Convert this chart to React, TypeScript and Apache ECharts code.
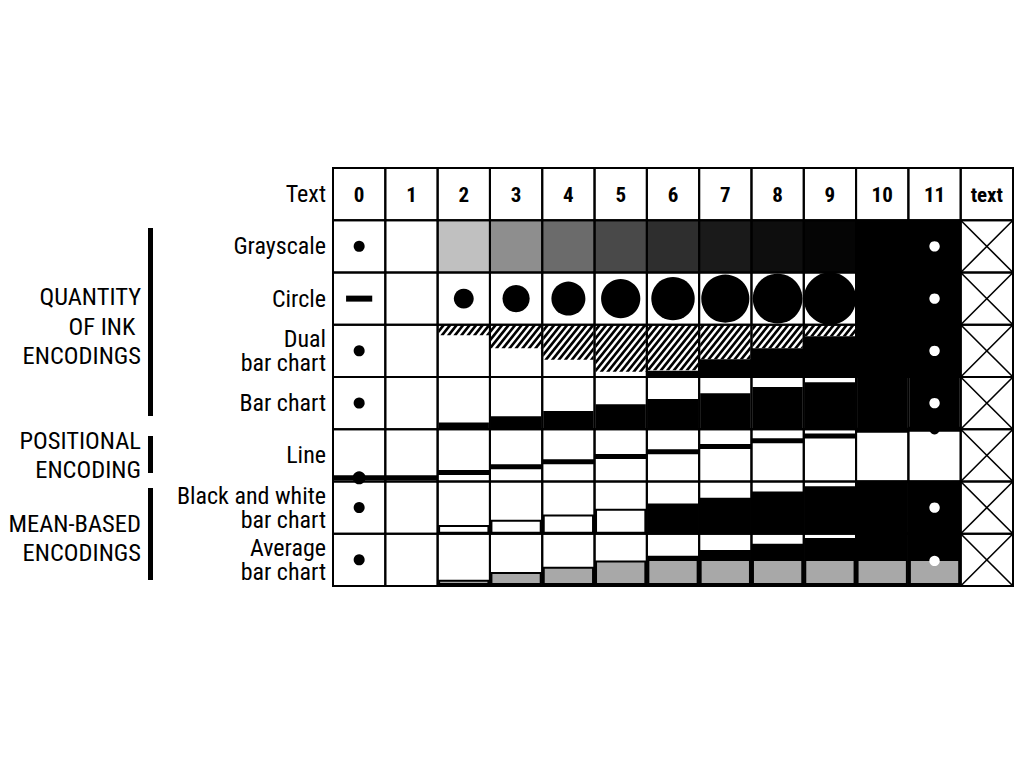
import React, { useEffect, useRef } from 'react';
import * as echarts from 'echarts';

const columns = ['0', '1', '2', '3', '4', '5', '6', '7', '8', '9', '10', '11', 'text'];
const rows = [
  'Text',
  'Grayscale',
  'Circle',
  'Dual\nbar chart',
  'Bar chart',
  'Line',
  'Black and white\nbar chart',
  'Average\nbar chart',
];

// values per column 0..11 (column "text" is not applicable)
const grayLevels = [255, 255, 192, 142, 107, 73, 46, 26, 14, 5, 0, 0];
const circleDiameters = [0, 0, 0.38, 0.52, 0.65, 0.75, 0.83, 0.92, 0.95, 1.0, 1.5, 1.5];
const dualHatched = [0, 0, 0.2, 0.45, 0.67, 0.9, 0.87, 0.66, 0.45, 0.22, 0, 0];
const dualBlack = [0, 0, 0, 0, 0, 0, 0.12, 0.34, 0.55, 0.78, 1, 1];
const barHeights = [0, 0, 0.13, 0.25, 0.35, 0.48, 0.58, 0.69, 0.81, 0.9, 1, 1];
const linePositions = [0.07, 0.07, 0.17, 0.28, 0.38, 0.48, 0.57, 0.67, 0.78, 0.87, 0.98, 1];
const bwHeights = [0, 0, 0.15, 0.25, 0.35, 0.46, 0.56, 0.67, 0.79, 0.89, 1, 1];
const avgHeights = [0, 0, 0.1, 0.25, 0.35, 0.47, 0.56, 0.67, 0.79, 0.9, 1, 1];
const avgMean = 0.48;
const bwThreshold = 0.5;

// markers for column 0 (empty) and column 11 (full), one per encoding row
const zeroMarkers = ['dot', 'dash', 'dot', 'dot', 'dot', 'dot', 'dot'];
const zeroMarkerPos = [0.5, 0.5, 0.5, 0.5, 0.07, 0.5, 0.5];
const fullMarkerPos = [0.5, 0.5, 0.5, 0.5, 1, 0.5, 0.48];
const fullMarkerColor = ['#fff', '#fff', '#fff', '#fff', '#000', '#fff', '#fff'];

const groupLabels = ['QUANTITY\nOF INK \nENCODINGS', 'POSITIONAL\nENCODING', 'MEAN-BASED\nENCODINGS'];

const FONT = "'Roboto Condensed', 'Liberation Sans Narrow', 'Arial Narrow', 'DejaVu Sans Condensed', Roboto, sans-serif";

type Pt = [number, number];

function clipHalf(poly: Pt[], f: (p: Pt) => number): Pt[] {
  const out: Pt[] = [];
  for (let i = 0; i < poly.length; i++) {
    const a = poly[i];
    const b = poly[(i + 1) % poly.length];
    const fa = f(a);
    const fb = f(b);
    if (fa >= 0) out.push(a);
    if ((fa >= 0) !== (fb >= 0)) {
      const t = fa / (fa - fb);
      out.push([a[0] + (b[0] - a[0]) * t, a[1] + (b[1] - a[1]) * t]);
    }
  }
  return out;
}

function hatch(x0: number, y0: number, x1: number, y1: number): any[] {
  const k = 0.8;
  const period = 6.5;
  const bw = 3.4;
  const els: any[] = [];
  if (y1 - y0 <= 0.5) return els;
  const umin = x0 + k * y0;
  const umax = x1 + k * y1;
  const rect: Pt[] = [[x0, y0], [x1, y0], [x1, y1], [x0, y1]];
  for (let c = Math.floor(umin / period) * period; c < umax; c += period) {
    let p = clipHalf(rect, (q) => q[0] + k * q[1] - c);
    p = clipHalf(p, (q) => c + bw - (q[0] + k * q[1]));
    if (p.length >= 3) {
      els.push({ type: 'polygon', shape: { points: p }, style: { fill: '#000' } });
    }
  }
  return els;
}

function dot(x: number, y: number, r: number, fill: string) {
  return { type: 'circle', shape: { cx: x, cy: y, r }, style: { fill } };
}

function rect(x: number, y: number, w: number, h: number, style: any) {
  return { type: 'rect', shape: { x, y, width: w, height: h }, style };
}

const cellData: number[][] = [];
rows.forEach((_, r) => columns.forEach((__, c) => cellData.push([c, r])));

export default function App() {
  const ref = useRef<HTMLDivElement>(null);
  useEffect(() => {
    if (!ref.current) return;
    const chart = echarts.init(ref.current, undefined, { renderer: 'svg' });

    const renderContent = (params: any, api: any) => {
      const c = api.value(0);
      const r = api.value(1);
      if (r === 0 || c === 12) return { type: 'group', children: [] };
      const [cx, cy] = api.coord([c, r]);
      const [w, h] = api.size([1, 1]);
      const x0 = cx - w / 2;
      const y0 = cy - h / 2;
      const y1 = y0 + h;
      const e = r - 1;
      const ch: any[] = [];
      const inset = 1.5;
      if (e === 0) {
        const g = grayLevels[c];
        ch.push(rect(x0, y0, w, h, { fill: `rgb(${g},${g},${g})` }));
      } else if (e === 1) {
        const d = circleDiameters[c];
        if (d >= Math.SQRT2) ch.push(rect(x0, y0, w, h, { fill: '#000' }));
        else if (d > 0) ch.push(dot(cx, cy, (d * w) / 2, '#000'));
      } else if (e === 2) {
        const hb = dualBlack[c] * h;
        if (hb > 0) ch.push(rect(x0, y1 - hb, w, hb, { fill: '#000' }));
        const hh = dualHatched[c] * h;
        if (hh > 0) ch.push(...hatch(x0 + 1, y0, x0 + w - 1, y0 + hh));
      } else if (e === 3) {
        const hb = barHeights[c] * h;
        if (hb > 0) ch.push(rect(x0 + 1, y1 - hb, w - 2, hb, { fill: '#000' }));
      } else if (e === 4) {
        const ly = y1 - linePositions[c] * h;
        ch.push(rect(x0, ly - 2.5, w, 5, { fill: '#000' }));
      } else if (e === 5) {
        const hb = bwHeights[c] * h;
        if (hb > 0) {
          const filled = bwHeights[c] > bwThreshold;
          ch.push(rect(x0 + inset, y1 - hb, w - 2 * inset, hb - 1, {
            fill: filled ? '#000' : '#fff', stroke: '#000', lineWidth: 2,
          }));
        }
      } else if (e === 6) {
        const v = avgHeights[c];
        const hb = v * h;
        if (hb > 0) {
          const gh = Math.min(v, avgMean) * h;
          ch.push(rect(x0 + inset, y1 - hb, w - 2 * inset, hb - 1, { fill: '#000', stroke: '#000', lineWidth: 2 }));
          ch.push(rect(x0 + inset + 1, y1 - gh + (v <= avgMean ? 1 : 0), w - 2 * inset - 2, gh - 3 - (v <= avgMean ? 1 : 0), { fill: '#a8a8a8' }));
        }
      }
      if (c === 0) {
        const my = y1 - zeroMarkerPos[e] * h;
        if (zeroMarkers[e] === 'dash') ch.push(rect(cx - w * 0.25, my - 3, w * 0.5, 6, { fill: '#000' }));
        else ch.push(dot(cx, my, e === 4 ? 6.5 : 5.5, '#000'));
      }
      if (c === 11) {
        const my = y1 - fullMarkerPos[e] * h;
        ch.push(dot(cx, my, 5.2, fullMarkerColor[e]));
      }
      return { type: 'group', children: ch };
    };

    const renderGrid = (params: any, api: any) => {
      const c = api.value(0);
      const r = api.value(1);
      const [cx, cy] = api.coord([c, r]);
      const [w, h] = api.size([1, 1]);
      const x0 = cx - w / 2;
      const y0 = cy - h / 2;
      const ch: any[] = [];
      if (c === 12 && r > 0) {
        ch.push({ type: 'line', shape: { x1: x0, y1: y0, x2: x0 + w, y2: y0 + h }, style: { stroke: '#000', lineWidth: 1.6 } });
        ch.push({ type: 'line', shape: { x1: x0 + w, y1: y0, x2: x0, y2: y0 + h }, style: { stroke: '#000', lineWidth: 1.6 } });
      }
      ch.push(rect(x0, y0, w, h, { fill: 'none', stroke: '#000', lineWidth: 2 }));
      if (r === 0) {
        ch.push({
          type: 'text',
          style: {
            text: columns[c], x: cx, y: cy + 1, textAlign: 'center', textVerticalAlign: 'middle',
            fontSize: 21, fontWeight: 'bold', fontFamily: FONT, fill: '#000',
          },
        });
      }
      return { type: 'group', children: ch };
    };

    const groupText = (text: string, y: number) => ({
      type: 'text',
      style: {
        text, x: 141, y, textAlign: 'right', textVerticalAlign: 'middle',
        fontSize: 24.5, lineHeight: 29.5, fontFamily: FONT, fill: '#000',
      },
    });

    chart.setOption({
      animation: false,
      backgroundColor: '#fff',
      grid: { left: 333, top: 168, width: 680, height: 418, containLabel: false },
      xAxis: {
        type: 'category', data: columns, show: false,
      },
      yAxis: {
        type: 'category', data: rows, inverse: true,
        axisLine: { show: false }, axisTick: { show: false }, splitLine: { show: false },
        axisLabel: { fontSize: 24, lineHeight: 24, color: '#000', fontFamily: FONT, margin: 7 },
      },
      graphic: [
        groupText(groupLabels[0], 326),
        groupText(groupLabels[1], 455),
        groupText(groupLabels[2], 538),
        { type: 'rect', shape: { x: 148, y: 228, width: 5, height: 188 }, style: { fill: '#000' } },
        { type: 'rect', shape: { x: 148, y: 436, width: 5, height: 37 }, style: { fill: '#000' } },
        { type: 'rect', shape: { x: 148, y: 488, width: 5, height: 92 }, style: { fill: '#000' } },
      ],
      series: [
        { type: 'custom', renderItem: renderContent, data: cellData, clip: false, silent: true, z: 2 },
        { type: 'custom', renderItem: renderGrid, data: cellData, clip: false, silent: true, z: 3 },
      ],
    });
    return () => chart.dispose();
  }, []);
  return <div ref={ref} style={{ position: 'fixed', left: 0, top: 0, width: 1024, height: 768 }} />;
}
